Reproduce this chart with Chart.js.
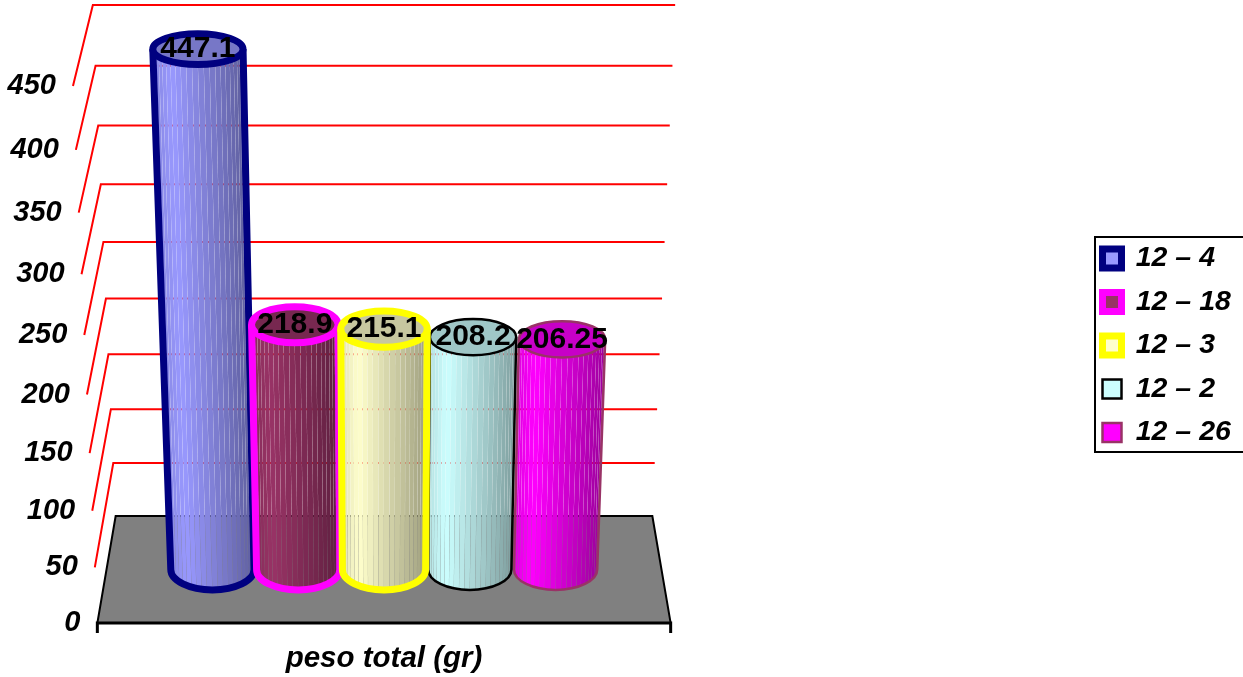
<!DOCTYPE html>
<html>
<head>
<meta charset="utf-8">
<title>peso total (gr)</title>
<script src="https://cdn.jsdelivr.net/npm/chart.js@4"></script>
<style>
  html, body { margin: 0; padding: 0; background: #fff; }
  canvas { display: block; }
</style>
</head>
<body>
<canvas id="myChart" width="1243" height="677"></canvas>
<script>
const categories = ['peso total (gr)'];
const seriesNames = ['12 \u2013 4', '12 \u2013 18', '12 \u2013 3', '12 \u2013 2', '12 \u2013 26'];
const seriesValues = [447.1, 218.9, 215.1, 208.2, 206.25];
const valueLabels = ['447.1', '218.9', '215.1', '208.2', '206.25'];
const axisMin = 0;
const axisMax = 450;
const axisStep = 50;

const fillColors = ['#9999ff', '#993366', '#ffffcc', '#ccffff', '#ff00ff'];
const edgeColors = ['#000080', '#ff00ff', '#ffff00', '#000000', '#993366'];
const edgeWidths = [7, 7, 7, 2.5, 2.5];

// the middle bars sit in front of the outer ones
const paintOrder = [0, 1, 4, 3, 2];

const FONT = '"Liberation Sans", Arial, sans-serif';

// 3d look of the plot
const TILT = 0.085;       // how much the box widens towards the top
const DEPTH_X = 0.033;    // horizontal shift front/back
const DEPTH_BOTTOM = 53.5;
const DEPTH_TOP = 40.5;
const CAP_RATIO = 0.38;   // ellipse height vs depth
const STRIPS = 24;

// linear axis whose steps get a bit longer going up
class PerspectiveScale extends Chart.LinearScale {
  getPixelForDecimal(d) {
    const k = 1.08;
    return super.getPixelForDecimal(d / (d + k * (1 - d)));
  }
}
PerspectiveScale.id = 'perspective';
PerspectiveScale.defaults = Chart.LinearScale.defaults;
Chart.register(PerspectiveScale);

function project(area, px, py, depth) {
  const cx = (area.left + area.right) / 2;
  const t = (area.bottom - py) / (area.bottom - area.top);
  const s = 1 + TILT * t;
  const dy = DEPTH_BOTTOM + (DEPTH_TOP - DEPTH_BOTTOM) * t;
  return {
    x: cx + (px - cx) * s * (1 + DEPTH_X * depth),
    y: py + depth * dy,
    scale: s,
    ry: dy * CAP_RATIO
  };
}

function shade(hex, k) {
  const n = parseInt(hex.slice(1), 16);
  const r = Math.round(((n >> 16) & 255) * k);
  const g = Math.round(((n >> 8) & 255) * k);
  const b = Math.round((n & 255) * k);
  return 'rgb(' + r + ',' + g + ',' + b + ')';
}

function drawWalls(chart) {
  const ctx = chart.ctx;
  const area = chart.chartArea;
  const y = chart.scales.y;

  ctx.save();
  ctx.strokeStyle = '#ff0000';
  ctx.lineWidth = 2;
  y.ticks.forEach(function(tick) {
    if (tick.value === axisMin) return;
    const py = y.getPixelForValue(tick.value);
    const a = project(area, area.left, py, 1);
    const b = project(area, area.left, py, -1);
    const c = project(area, area.right, py, -1);
    ctx.beginPath();
    ctx.moveTo(a.x, a.y);
    ctx.lineTo(b.x, b.y);
    ctx.lineTo(c.x, c.y);
    ctx.stroke();
  });
  ctx.restore();
}

function drawFloor(chart) {
  const ctx = chart.ctx;
  const area = chart.chartArea;
  const py = chart.scales.y.getPixelForValue(axisMin);
  const fl = project(area, area.left, py, 1);
  const fr = project(area, area.right, py, 1);
  const bl = project(area, area.left, py, -1);
  const br = project(area, area.right, py, -1);

  ctx.save();
  ctx.fillStyle = '#808080';
  ctx.beginPath();
  ctx.moveTo(fl.x, fl.y);
  ctx.lineTo(bl.x, bl.y);
  ctx.lineTo(br.x, br.y);
  ctx.lineTo(fr.x, fr.y);
  ctx.closePath();
  ctx.fill();

  ctx.strokeStyle = '#000';
  ctx.lineWidth = 2;
  ctx.beginPath();
  ctx.moveTo(fl.x, fl.y);
  ctx.lineTo(bl.x, bl.y);
  ctx.lineTo(br.x, br.y);
  ctx.lineTo(fr.x, fr.y);
  ctx.stroke();

  // front edge with its two end ticks
  ctx.lineWidth = 3;
  ctx.beginPath();
  ctx.moveTo(fl.x, fl.y + 10);
  ctx.lineTo(fl.x, fl.y);
  ctx.lineTo(fr.x, fr.y);
  ctx.lineTo(fr.x, fr.y + 10);
  ctx.stroke();
  ctx.restore();
}

function drawCylinder(chart, index) {
  const ctx = chart.ctx;
  const area = chart.chartArea;
  const bar = chart.getDatasetMeta(index).data[0];
  const half = bar.width / 2;
  const low = project(area, bar.x, bar.base, 0);
  const high = project(area, bar.x, bar.y, 0);
  const rxLow = half * low.scale;
  const rxHigh = half * high.scale;
  const fill = fillColors[index];

  ctx.save();

  // side of the cylinder, thin facets with hairline seams between them
  for (let i = 0; i < STRIPS; i++) {
    const a0 = Math.PI - Math.PI * i / STRIPS;
    const a1 = Math.PI - Math.PI * (i + 1) / STRIPS;
    const pos = (1 + Math.cos((a0 + a1) / 2)) / 2;  // 0 left, 1 right
    const k = pos < 0.2 ? 0.88 + 0.6 * pos : 1 - 0.47 * (pos - 0.2);
    const gap = 0.12;
    ctx.fillStyle = shade(fill, k);
    ctx.beginPath();
    ctx.moveTo(high.x + rxHigh * Math.cos(a0), high.y + high.ry * Math.sin(a0));
    ctx.lineTo(high.x + rxHigh * Math.cos(a1) - gap, high.y + high.ry * Math.sin(a1));
    ctx.lineTo(low.x + rxLow * Math.cos(a1) - gap, low.y + low.ry * Math.sin(a1));
    ctx.lineTo(low.x + rxLow * Math.cos(a0), low.y + low.ry * Math.sin(a0));
    ctx.closePath();
    ctx.fill();
  }

  ctx.strokeStyle = edgeColors[index];
  ctx.lineWidth = edgeWidths[index];
  ctx.lineJoin = 'round';

  ctx.beginPath();
  ctx.moveTo(high.x - rxHigh, high.y);
  ctx.lineTo(low.x - rxLow, low.y);
  ctx.ellipse(low.x, low.y, rxLow, low.ry, 0, Math.PI, 0, true);
  ctx.lineTo(high.x + rxHigh, high.y);
  ctx.stroke();

  // top cap
  ctx.fillStyle = shade(fill, 0.78);
  ctx.beginPath();
  ctx.ellipse(high.x, high.y, rxHigh, high.ry, 0, 0, Math.PI * 2);
  ctx.fill();
  ctx.stroke();

  ctx.restore();
}

function drawTickLabels(chart) {
  const ctx = chart.ctx;
  const area = chart.chartArea;
  const y = chart.scales.y;

  ctx.save();
  ctx.fillStyle = '#000';
  ctx.font = 'italic bold 29px ' + FONT;
  ctx.textAlign = 'right';
  ctx.textBaseline = 'middle';
  y.ticks.forEach(function(tick) {
    const p = project(area, area.left, y.getPixelForValue(tick.value), 1);
    ctx.fillText(String(tick.value), p.x - 17, p.y);
  });
  ctx.restore();
}

function drawValueLabels(chart) {
  const ctx = chart.ctx;
  const area = chart.chartArea;

  ctx.save();
  ctx.fillStyle = '#000';
  ctx.font = 'bold 30px ' + FONT;
  ctx.textAlign = 'center';
  ctx.textBaseline = 'middle';
  seriesValues.forEach(function(value, i) {
    const bar = chart.getDatasetMeta(i).data[0];
    const p = project(area, bar.x, bar.y, 0);
    ctx.fillText(valueLabels[i], p.x, p.y);
  });
  ctx.restore();
}

const LEGEND_BOX = { left: 1095, top: 237, bottom: 452 };

const chart3d = {
  id: 'chart3d',
  afterLayout: function(chart) {
    // legend lives far to the right of the plot, not next to it
    // (a few px extra height or the last row wraps to a new column)
    const legend = chart.legend;
    legend.left = LEGEND_BOX.left - 7.5;
    legend.right = chart.width;
    legend.top = LEGEND_BOX.top - 9;
    legend.bottom = LEGEND_BOX.bottom + 11;
  },
  beforeDatasetsDraw: function(chart) {
    drawWalls(chart);
    drawFloor(chart);
    paintOrder.forEach(function(i) {
      drawCylinder(chart, i);
    });
    drawTickLabels(chart);
    drawValueLabels(chart);
    return false;
  },
  afterDraw: function(chart) {
    const ctx = chart.ctx;
    ctx.save();
    ctx.strokeStyle = '#000';
    ctx.lineWidth = 2;
    ctx.strokeRect(LEGEND_BOX.left, LEGEND_BOX.top, chart.width - LEGEND_BOX.left + 6, LEGEND_BOX.bottom - LEGEND_BOX.top);
    ctx.restore();
  }
};

const datasets = seriesNames.map(function(name, i) {
  return {
    label: name,
    data: [seriesValues[i]],
    backgroundColor: fillColors[i],
    borderColor: edgeColors[i],
    borderWidth: edgeWidths[i]
  };
});

new Chart(document.getElementById('myChart').getContext('2d'), {
  type: 'bar',
  data: { labels: categories, datasets: datasets },
  plugins: [chart3d],
  options: {
    responsive: false,
    animation: false,
    categoryPercentage: 0.773,
    barPercentage: 0.97,
    layout: { padding: { top: 45.5, left: 106.5, right: 433.5, bottom: 0 } },
    plugins: {
      tooltip: { enabled: false },
      legend: {
        position: 'right',
        maxWidth: 148,
        labels: {
          boxWidth: 19,
          boxHeight: 19,
          padding: 15,
          color: '#000',
          font: { family: FONT, size: 28.5, style: 'italic', weight: 'bold' }
        }
      }
    },
    scales: {
      x: {
        grid: { display: false },
        border: { display: false },
        ticks: { display: false },
        title: {
          display: true,
          text: categories[0],
          color: '#000',
          padding: { top: 64, bottom: 0 },
          font: { family: FONT, size: 29.5, style: 'italic', weight: 'bold' }
        }
      },
      y: {
        type: 'perspective',
        display: false,
        min: axisMin,
        max: axisMax,
        ticks: { stepSize: axisStep }
      }
    }
  }
});
</script>
</body>
</html>
